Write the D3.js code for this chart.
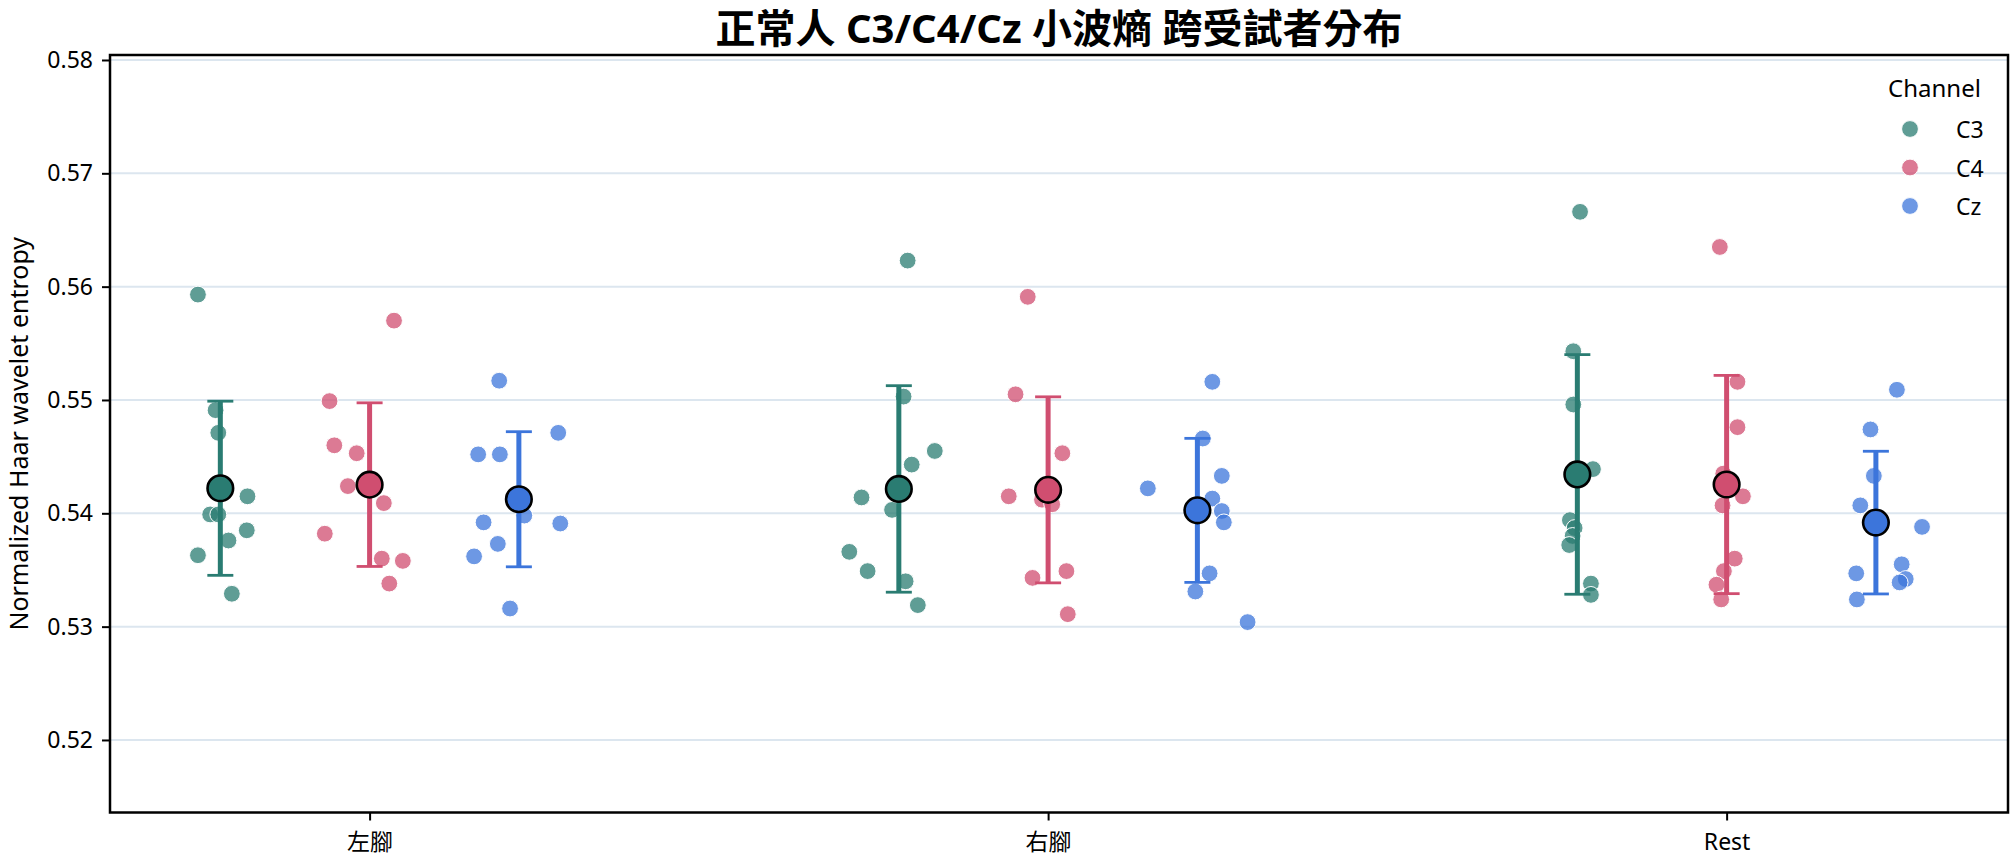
<!DOCTYPE html>
<html>
<head>
<meta charset="utf-8">
<script src="https://cdn.jsdelivr.net/npm/d3@7"></script>
<style>
  html, body { margin: 0; padding: 0; background: #ffffff; }
  svg { display: block; }
  text { font-family: "Noto Sans", "Noto Sans CJK TC", sans-serif; fill: #000; }
</style>
</head>
<body>
<script>
// ---------------- DATA ----------------
const categories = ["左腳", "右腳", "Rest"];
const channels = ["C3", "C4", "Cz"];
const yTicks = [0.52, 0.53, 0.54, 0.55, 0.56, 0.57, 0.58];

// subject values (normalized Haar wavelet entropy)
const leftC3  = [0.5593, 0.5491, 0.5471, 0.5415, 0.5399, 0.5399, 0.5385, 0.5376, 0.5363, 0.5329];
const leftC4  = [0.5570, 0.5499, 0.5460, 0.5453, 0.5424, 0.5409, 0.5382, 0.5360, 0.5358, 0.5338];
const leftCz  = [0.5517, 0.5471, 0.5452, 0.5452, 0.5398, 0.5392, 0.5391, 0.5373, 0.5362, 0.5316];
const rightC3 = [0.5623, 0.5503, 0.5455, 0.5443, 0.5414, 0.5403, 0.5366, 0.5349, 0.5340, 0.5319];
const rightC4 = [0.5591, 0.5505, 0.5453, 0.5415, 0.5412, 0.5408, 0.5420, 0.5349, 0.5343, 0.5311];
const rightCz = [0.5516, 0.5466, 0.5433, 0.5422, 0.5413, 0.5402, 0.5392, 0.5347, 0.5331, 0.5304];
const restC3  = [0.5666, 0.5543, 0.5496, 0.5439, 0.5394, 0.5387, 0.5380, 0.5372, 0.5338, 0.5328];
const restC4  = [0.5635, 0.5516, 0.5476, 0.5435, 0.5415, 0.5407, 0.5360, 0.5349, 0.5337, 0.5324];
const restCz  = [0.5509, 0.5474, 0.5433, 0.5407, 0.5388, 0.5355, 0.5347, 0.5342, 0.5339, 0.5324];

// strip-plot jitter of each subject (category units)
const jitLeftC3  = [-0.033, -0.007, -0.003, 0.040, -0.015, -0.003, 0.039, 0.012, -0.033, 0.017];
const jitLeftC4  = [0.036, -0.059, -0.052, -0.019, -0.032, 0.021, -0.066, 0.018, 0.049, 0.029];
const jitLeftCz  = [-0.029, 0.058, -0.060, -0.028, 0.008, -0.052, 0.061, -0.031, -0.066, -0.013];
const jitRightC3 = [0.013, 0.007, 0.053, 0.019, -0.055, -0.010, -0.073, -0.046, 0.010, 0.028];
const jitRightC4 = [-0.030, -0.048, 0.021, -0.058, -0.009, 0.006, 0.000, 0.027, -0.023, 0.029];
const jitRightCz = [0.022, 0.008, 0.036, -0.073, 0.022, 0.036, 0.039, 0.018, -0.003, 0.074];
const jitRestC3  = [0.004, -0.006, -0.006, 0.023, -0.011, -0.004, -0.007, -0.012, 0.020, 0.020];
const jitRestC4  = [-0.010, 0.016, 0.016, -0.005, 0.024, -0.006, 0.012, -0.004, -0.015, -0.008];
const jitRestCz  = [0.031, -0.008, -0.003, -0.023, 0.068, 0.038, -0.029, 0.044, 0.035, -0.028];

const seriesValues = [[leftC3, leftC4, leftCz], [rightC3, rightC4, rightCz], [restC3, restC4, restCz]];
const seriesJitter = [[jitLeftC3, jitLeftC4, jitLeftCz], [jitRightC3, jitRightC4, jitRightCz], [jitRestC3, jitRestC4, jitRestCz]];

// ---------------- STYLE / LAYOUT ----------------
const W = 2015, H = 864;
const plot = { left: 110, right: 2008, top: 55, bottom: 812.5 };
const xLimits = [-0.3826, 2.4147];
const yLimits = [0.5136, 0.58044];
const dodge = [-0.22, 0, 0.22];
const colors = ["#2a7c72", "#d04e70", "#3c75db"];

const svg = d3.select("body").append("svg").attr("width", W).attr("height", H);

const x = d3.scaleLinear().domain(xLimits).range([plot.left, plot.right]);
const y = d3.scaleLinear().domain(yLimits).range([plot.bottom, plot.top]);

// gridlines
svg.append("g").selectAll("line").data(yTicks).join("line")
  .attr("x1", plot.left).attr("x2", plot.right)
  .attr("y1", d => y(d)).attr("y2", d => y(d))
  .attr("stroke", "#dce6ef").attr("stroke-width", 2);

// points
const pts = [];
seriesValues.forEach((grp, ci) => grp.forEach((vals, ki) => vals.forEach((v, j) => {
  pts.push({ ci, ki, v, j: seriesJitter[ci][ki][j] });
})));
svg.append("g").selectAll("circle").data(pts).join("circle")
  .attr("cx", d => x(d.ci + dodge[d.ki] + d.j))
  .attr("cy", d => y(d.v))
  .attr("r", 8.4)
  .attr("fill", d => colors[d.ki])
  .attr("fill-opacity", 0.75)
  .attr("stroke", "#ffffff")
  .attr("stroke-width", 1);

// summaries: mean ± SD
const summ = [];
seriesValues.forEach((grp, ci) => grp.forEach((vals, ki) => {
  summ.push({ ci, ki, m: d3.mean(vals), sd: d3.deviation(vals) });
}));
const eb = svg.append("g");
eb.selectAll("line.bar").data(summ).join("line").attr("class", "bar")
  .attr("x1", d => x(d.ci + dodge[d.ki])).attr("x2", d => x(d.ci + dodge[d.ki]))
  .attr("y1", d => y(d.m - d.sd)).attr("y2", d => y(d.m + d.sd))
  .attr("stroke", d => colors[d.ki]).attr("stroke-width", 5);
["lo", "hi"].forEach(side => {
  eb.selectAll("line.cap" + side).data(summ).join("line").attr("class", "cap" + side)
    .attr("x1", d => x(d.ci + dodge[d.ki]) - 13).attr("x2", d => x(d.ci + dodge[d.ki]) + 13)
    .attr("y1", d => y(side === "lo" ? d.m - d.sd : d.m + d.sd))
    .attr("y2", d => y(side === "lo" ? d.m - d.sd : d.m + d.sd))
    .attr("stroke", d => colors[d.ki]).attr("stroke-width", 2.8);
});
svg.append("g").selectAll("circle").data(summ).join("circle")
  .attr("cx", d => x(d.ci + dodge[d.ki]))
  .attr("cy", d => y(d.m))
  .attr("r", 12.8)
  .attr("fill", d => colors[d.ki])
  .attr("stroke", "#000").attr("stroke-width", 2.6);

// axes
const yAxis = svg.append("g").attr("transform", `translate(${plot.left},0)`)
  .call(d3.axisLeft(y).tickValues(yTicks).tickFormat(d3.format(".2f")).tickSize(8).tickPadding(9));
const xAxis = svg.append("g").attr("transform", `translate(0,${plot.bottom})`)
  .call(d3.axisBottom(x).tickValues([0, 1, 2]).tickFormat(i => categories[i]).tickSize(8).tickPadding(13));
[yAxis, xAxis].forEach(g => {
  g.select(".domain").remove();
  g.selectAll(".tick line").attr("stroke", "#000").attr("stroke-width", 2);
  g.selectAll(".tick text").style("font-size", "23px").attr("fill", "#000");
});

// frame
svg.append("rect")
  .attr("x", plot.left).attr("y", plot.top)
  .attr("width", plot.right - plot.left).attr("height", plot.bottom - plot.top)
  .attr("fill", "none").attr("stroke", "#000").attr("stroke-width", 2.5);

// y label
svg.append("text")
  .attr("transform", `translate(18,${(plot.top + plot.bottom) / 2}) rotate(-90)`)
  .attr("text-anchor", "middle").attr("dominant-baseline", "central")
  .style("font-size", "25px")
  .text("Normalized Haar wavelet entropy");

// title
svg.append("text")
  .attr("x", (plot.left + plot.right) / 2).attr("y", 27)
  .attr("text-anchor", "middle").attr("dominant-baseline", "central")
  .style("font-size", "40px").style("font-weight", "bold")
  .text("正常人 C3/C4/Cz 小波熵 跨受試者分布");

// legend
const lg = svg.append("g");
lg.append("text").attr("x", 1934.5).attr("y", 87)
  .attr("text-anchor", "middle").attr("dominant-baseline", "central")
  .style("font-size", "24px").text("Channel");
channels.forEach((c, i) => {
  const yy = 129 + i * 38.5;
  lg.append("circle").attr("cx", 1910).attr("cy", yy).attr("r", 8.4)
    .attr("fill", colors[i]).attr("fill-opacity", 0.75)
    .attr("stroke", "#fff").attr("stroke-width", 1);
  lg.append("text").attr("x", 1956).attr("y", yy)
    .attr("dominant-baseline", "central").style("font-size", "23px").text(c);
});
</script>
</body>
</html>
